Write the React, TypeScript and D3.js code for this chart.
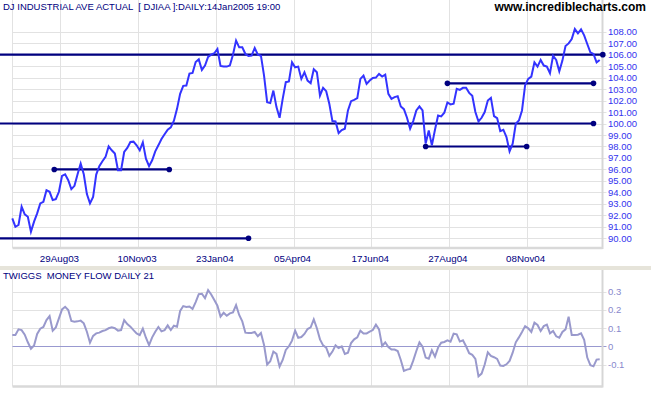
import React from "react";
import * as d3 from "d3";

const width = 651;
const height = 395;
const font = "Liberation Sans, Arial, sans-serif";
const step = 2; // one value every 2nd trading day

// DJIA close, read every 2nd bar
const closes = [
  91.73, 91.0, 91.16, 92.75, 92.08, 91.88, 90.58, 91.45, 92.17, 93.04, 93.18, 94.19, 94.05, 93.33,
  93.41, 94.05, 95.44, 95.58, 95.06, 94.28, 94.57, 95.58, 96.51, 95.58, 93.85, 93.04, 93.6, 95.55,
  96.28, 96.71, 97.09, 98.01, 97.67, 97.38, 95.93, 95.93, 97.52, 97.87, 98.39, 98.42, 98.1, 97.67,
  98.36, 96.94, 96.28, 96.8, 97.58, 98.1,
  98.65, 99.06, 99.46, 99.66, 100.24, 101.28, 102.59, 103.28, 103.31, 104.35, 104.41, 105.36,
  105.59, 104.67, 105.05, 105.8, 106.0, 106.12, 106.49, 105.02, 104.96, 104.96, 105.05, 106.0,
  107.22, 106.64, 106.64, 106.06, 105.88, 105.91, 106.58, 106.0, 105.91, 104.18, 101.86, 101.78,
  102.87, 101.43, 100.5, 102.15, 103.6, 103.66, 105.33, 104.9, 104.96, 103.89, 104.47,
  103.74, 103.51, 104.73, 104.47, 102.44, 103.11, 102.82, 101.72, 100.21, 100.18, 99.17, 99.43,
  99.55, 101.14, 101.95, 102.06, 102.21, 103.89, 104.18, 103.45, 103.74, 103.97, 104.0, 104.32,
  104.09, 104.26, 102.59, 102.15, 102.3, 102.38, 101.49, 101.25, 100.5, 99.55, 100.21, 101.14,
  101.49, 101.14, 98.25, 99.4, 98.1, 99.46, 100.7, 100.62, 100.94, 101.83,
  101.66, 101.72, 103.02, 102.93, 103.11, 103.11, 102.67, 102.41, 101.0, 100.18, 100.5, 101.0,
  102.01, 102.24, 100.65, 100.47, 99.34, 99.46, 98.82, 97.58, 98.25, 99.98, 100.27, 101.14,
  103.34, 103.89, 104.09, 105.33, 104.96, 105.54, 105.05, 104.96, 104.38, 105.91, 105.54, 104.55,
  105.48, 106.75, 106.98, 107.36, 108.23, 107.85, 108.2, 107.68, 106.93, 106.2, 106.06, 105.33,
  105.54,
];

// Twiggs money flow 21, same bars
const moneyFlow = [
  0.062, 0.062, 0.093, 0.089, 0.064, 0.022, -0.013, 0.005, 0.068, 0.097, 0.106, 0.144, 0.166,
  0.086, 0.104, 0.153, 0.203, 0.217, 0.199, 0.139, 0.135, 0.137, 0.141, 0.126, 0.08, 0.02, 0.057,
  0.071, 0.075, 0.084, 0.089, 0.099, 0.104, 0.099, 0.086, 0.089, 0.144, 0.122, 0.108, 0.089, 0.071,
  0.062, 0.097, 0.047, 0.007, 0.049, 0.08, 0.106, 0.082, 0.089, 0.115, 0.089, 0.113, 0.108, 0.194,
  0.221, 0.216, 0.219, 0.205, 0.243, 0.287, 0.289, 0.265, 0.309, 0.285, 0.254, 0.223, 0.163, 0.184,
  0.168, 0.181, 0.186, 0.226, 0.172, 0.137, 0.075, 0.073, 0.073, 0.079, 0.055, 0.073, 0.007, -0.1,
  -0.082, -0.029, -0.042, -0.111, -0.075, -0.02, 0.0, 0.031, 0.086, 0.047, 0.051, 0.068, 0.095,
  0.104, 0.148, 0.099, 0.038, 0.005, -0.007, -0.053, -0.029, 0.005, -0.009, 0.0, -0.042, -0.035,
  0.018, 0.038, 0.049, 0.086, 0.071, 0.071, 0.08, 0.089, 0.119, 0.093, 0.002, 0.022, -0.004,
  -0.018, -0.018, -0.026, -0.075, -0.135, -0.128, -0.124, -0.079, -0.026, 0.022, -0.002, -0.062,
  -0.068, -0.022, -0.057, -0.007, 0.02, 0.024, 0.033, 0.026, 0.069, 0.066, 0.026, 0.033, 0.0,
  -0.038, -0.047, -0.069, -0.165, -0.15, -0.1, -0.033, -0.053, -0.06, -0.069, -0.106, -0.108,
  -0.099, -0.08, -0.035, 0.022, 0.049, 0.079, 0.111, 0.099, 0.079, 0.13, 0.117, 0.084, 0.111,
  0.119, 0.071, 0.084, 0.055, 0.047, 0.079, 0.093, 0.163, 0.062, 0.062, 0.064, 0.071, 0.035,
  -0.062, -0.104, -0.11, -0.073, -0.071,
];

// support / resistance lines: level, first bar (null = from the left edge), last bar
const levelValues = [106, 100, 90, 96, 103.5, 98];
const levelFrom: (number | null)[] = [null, null, null, 27, 280, 266];
const levelTo = [380, 374, 152, 101, 374, 331];

const dateLabels = ["29Aug03", "10Nov03", "23Jan04", "05Apr04", "17Jun04", "27Aug04", "08Nov04"];
const dateBars = [31, 81, 131, 181, 231, 281, 331];

const mfTicks = [-0.1, 0, 0.1, 0.2, 0.3];

const x = d3.scaleLinear().domain([0, 378]).range([12.3, 599.7]);
const yP = d3.scaleLinear().domain([90, 108]).range([238.3, 31.7]);
const yM = d3.scaleLinear().domain([-0.1, 0.3]).range([364.5, 291.7]);

const left = 12.5;
const right = 602.5;
const priceBottom = 248;
const mfTop = 270;
const mfBottom = 386.5;
const grid = "#e2e2e2";
const navy = "#000080";

const crisp = (v: number) => Math.round(v) + 0.5;

const priceLine = d3
  .line<number>()
  .x((_, i) => x(i * step))
  .y((d) => yP(d));

const mfLine = d3
  .line<number>()
  .x((_, i) => x(i * step))
  .y((d) => yM(d));

const App = () => {
  return (
    <svg
      width={width}
      height={height}
      style={{ position: "absolute", left: 0, top: 0, background: "#fff" }}
      fontFamily={font}
    >
      {/* price panel grid */}
      {yP.ticks(18).map((t) => (
        <line key={"hp" + t} x1={left} x2={right + 4} y1={crisp(yP(t))} y2={crisp(yP(t))} stroke={grid} />
      ))}
      {dateBars.map((b) => (
        <line key={"vp" + b} x1={crisp(x(b))} x2={crisp(x(b))} y1={0} y2={priceBottom} stroke={grid} />
      ))}
      <line x1={left} x2={left} y1={0} y2={priceBottom} stroke={grid} />
      <line x1={right} x2={right} y1={0} y2={priceBottom + 1} stroke="#d6d6d6" strokeWidth={2} />
      <line x1={left} x2={right} y1={priceBottom} y2={priceBottom} stroke="#d9d9d9" strokeWidth={2.5} />

      {/* price axis */}
      {yP.ticks(18).map((t) => (
        <text key={"lp" + t} x={608} y={yP(t) + 3.5} fontSize={9.5} fill="#3333ee">
          {t.toFixed(2)}
        </text>
      ))}

      {/* date axis */}
      {dateBars.map((b, i) => (
        <text key={"d" + b} x={x(b) - 1} y={262} fontSize={9.8} fill={navy} textAnchor="middle">
          {dateLabels[i]}
        </text>
      ))}

      {/* level lines */}
      {levelValues.map((v, i) => {
        const from = levelFrom[i];
        const x1 = from === null ? 0 : x(from);
        const x2 = x(levelTo[i]);
        return (
          <g key={"lv" + i}>
            <line x1={x1} x2={x2} y1={yP(v)} y2={yP(v)} stroke={navy} strokeWidth={2.2} />
            {from !== null && <circle cx={x1} cy={yP(v)} r={2.8} fill={navy} />}
            <circle cx={x2} cy={yP(v)} r={2.8} fill={navy} />
          </g>
        );
      })}

      <path d={priceLine(closes) ?? ""} fill="none" stroke="#3333ff" strokeWidth={2} />

      {/* headings */}
      <text x={3} y={9.5} fontSize={9.5} fill={navy}>
        DJ INDUSTRIAL AVE ACTUAL {"\u00a0"}[ DJIAA ]:DAILY:14Jan2005 19:00
      </text>
      <text x={646} y={10.5} fontSize={12} fontWeight="bold" fill="#000" textAnchor="end">
        www.incrediblecharts.com
      </text>

      {/* separator */}
      <rect x={0} y={266} width={width} height={4} fill="#e6e4da" />

      {/* money flow panel */}
      {dateBars.map((b) => (
        <line key={"vm" + b} x1={crisp(x(b))} x2={crisp(x(b))} y1={mfTop} y2={mfBottom} stroke={grid} />
      ))}
      <line x1={left} x2={left} y1={mfTop} y2={mfBottom} stroke={grid} />
      {mfTicks
        .filter((t) => t !== 0)
        .map((t) => (
          <line key={"hm" + t} x1={left} x2={right + 4} y1={crisp(yM(t))} y2={crisp(yM(t))} stroke={grid} />
        ))}
      <line x1={left} x2={right + 4} y1={crisp(yM(0))} y2={crisp(yM(0))} stroke="#9999d0" />
      <line x1={right} x2={right} y1={mfTop} y2={mfBottom + 1} stroke="#d6d6d6" strokeWidth={2} />
      <line x1={left} x2={right} y1={mfBottom} y2={mfBottom} stroke="#d9d9d9" strokeWidth={2.5} />
      {mfTicks.map((t) => (
        <text key={"lm" + t} x={608} y={yM(t) + 3.5} fontSize={9.5} fill="#8888cc">
          {t === 0 ? "0" : String(t)}
        </text>
      ))}
      <path d={mfLine(moneyFlow) ?? ""} fill="none" stroke="#9999cc" strokeWidth={2} />
      <text x={3} y={279} fontSize={9.5} fill={navy}>
        TWIGGS {"\u00a0"}MONEY FLOW DAILY 21
      </text>
    </svg>
  );
};

export default App;
